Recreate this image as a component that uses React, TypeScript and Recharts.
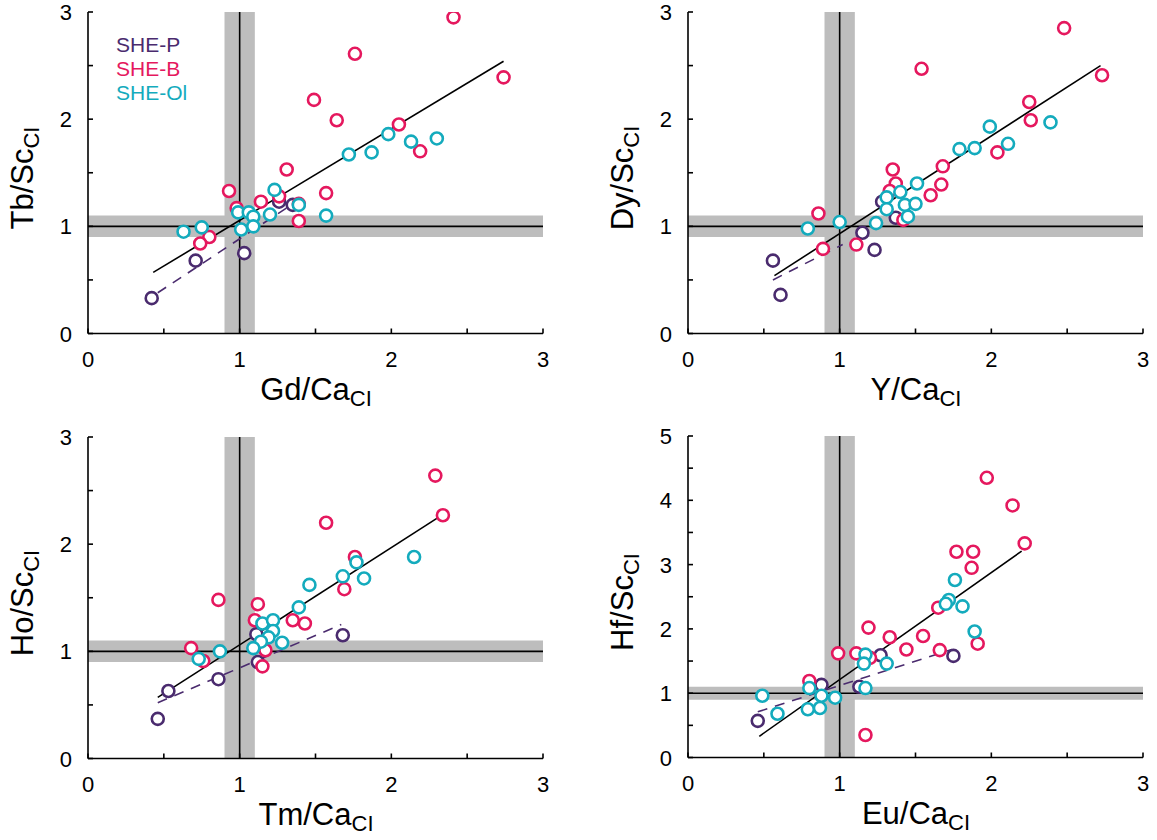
import React from 'react';
import { ScatterChart, Scatter, XAxis, YAxis, ReferenceArea, ReferenceLine } from 'recharts';

type Pt = [number, number];

const PURPLE = '#4a2b6e';
const PINK = '#e5185e';
const CYAN = '#14abbd';
const BAND = '#bdbdbd';
const FONT = '"Liberation Sans", Arial, sans-serif';

const xTicks = [0, 0.5, 1, 1.5, 2, 2.5, 3];
const yTicks3 = [0, 0.5, 1, 1.5, 2, 2.5, 3];
const yTicks5 = [0, 0.5, 1, 1.5, 2, 2.5, 3, 3.5, 4, 4.5, 5];

const seriesNames = ['SHE-P', 'SHE-B', 'SHE-Ol'];

// Gd/Ca vs Tb/Sc
const gdTbP: Pt[] = [[0.42, 0.33], [0.71, 0.68], [1.03, 0.75], [1.26, 1.23], [1.35, 1.2]];
const gdTbB: Pt[] = [
  [2.41, 2.95], [1.76, 2.61], [2.74, 2.39], [1.49, 2.18], [1.64, 1.99], [2.05, 1.95],
  [2.19, 1.7], [1.31, 1.53], [0.93, 1.33], [1.57, 1.31], [1.14, 1.23], [1.26, 1.28],
  [0.98, 1.17], [1.39, 1.21], [1.39, 1.05], [0.8, 0.9], [0.74, 0.84],
];
const gdTbOl: Pt[] = [
  [0.63, 0.95], [0.75, 0.99], [0.99, 1.13], [1.06, 1.13], [1.09, 1.09], [1.01, 0.97],
  [1.09, 1.0], [1.2, 1.11], [1.23, 1.34], [1.39, 1.2], [1.57, 1.1], [1.72, 1.67],
  [1.87, 1.69], [1.98, 1.86], [2.13, 1.79], [2.3, 1.82],
];
const gdTbFit: Pt[] = [[0.43, 0.57], [2.74, 2.54]];
const gdTbFitP: Pt[] = [[0.46, 0.38], [1.34, 1.2]];

// Y/Ca vs Dy/Sc
const yDyP: Pt[] = [[0.56, 0.68], [0.61, 0.36], [1.15, 0.94], [1.23, 0.78], [1.28, 1.23], [1.37, 1.08]];
const yDyB: Pt[] = [
  [2.48, 2.85], [1.54, 2.47], [2.73, 2.41], [2.25, 2.16], [2.26, 1.99], [2.04, 1.69],
  [1.68, 1.56], [1.35, 1.53], [1.37, 1.4], [1.33, 1.33], [1.67, 1.39], [1.6, 1.29],
  [0.86, 1.12], [1.42, 1.06], [0.89, 0.79], [1.11, 0.83],
];
const yDyOl: Pt[] = [
  [0.79, 0.98], [1.0, 1.04], [1.24, 1.03], [1.31, 1.27], [1.31, 1.16], [1.4, 1.32],
  [1.43, 1.2], [1.5, 1.21], [1.45, 1.09], [1.51, 1.4], [1.79, 1.72], [1.89, 1.73],
  [1.99, 1.93], [2.11, 1.77], [2.39, 1.97],
];
const yDyFit: Pt[] = [[0.57, 0.54], [2.72, 2.5]];
const yDyFitP: Pt[] = [[0.56, 0.5], [1.02, 0.83]];

// Tm/Ca vs Ho/Sc
const tmHoP: Pt[] = [[0.46, 0.37], [0.53, 0.63], [0.86, 0.74], [1.11, 1.16], [1.12, 0.9], [1.68, 1.15]];
const tmHoB: Pt[] = [
  [2.29, 2.64], [2.34, 2.27], [1.57, 2.2], [1.76, 1.88], [1.69, 1.58], [0.86, 1.48],
  [1.12, 1.44], [1.1, 1.29], [1.35, 1.29], [1.43, 1.26], [0.68, 1.03], [0.76, 0.91],
  [1.17, 1.01], [1.15, 0.86],
];
const tmHoOl: Pt[] = [
  [2.15, 1.88], [1.77, 1.83], [1.68, 1.7], [1.82, 1.68], [1.46, 1.62], [1.39, 1.41],
  [1.15, 1.26], [1.22, 1.29], [1.22, 1.19], [1.19, 1.13], [1.14, 1.09], [1.28, 1.08],
  [1.09, 1.03], [0.87, 1.0], [0.73, 0.93],
];
const tmHoFit: Pt[] = [[0.46, 0.57], [2.3, 2.24]];
const tmHoFitP: Pt[] = [[0.46, 0.52], [1.67, 1.25]];

// Eu/Ca vs Hf/Sc
const euHfP: Pt[] = [[0.46, 0.57], [0.88, 1.13], [1.13, 1.1], [1.27, 1.59], [1.75, 1.58]];
const euHfB: Pt[] = [
  [1.97, 4.35], [2.14, 3.92], [2.22, 3.33], [1.77, 3.2], [1.88, 3.2], [1.87, 2.95],
  [1.65, 2.33], [1.19, 2.02], [1.33, 1.87], [1.55, 1.89], [1.44, 1.68], [1.66, 1.67],
  [1.91, 1.77], [0.99, 1.62], [1.11, 1.62], [1.2, 1.55], [0.8, 1.19], [1.17, 0.35],
];
const euHfOl: Pt[] = [
  [1.76, 2.76], [1.72, 2.45], [1.7, 2.39], [1.81, 2.35], [1.89, 1.96], [1.17, 1.6],
  [1.16, 1.46], [1.31, 1.46], [1.17, 1.08], [0.8, 1.08], [0.49, 0.96], [0.88, 0.96],
  [0.97, 0.93], [0.59, 0.68], [0.79, 0.75], [0.87, 0.77],
];
const euHfFit: Pt[] = [[0.47, 0.33], [2.2, 3.21]];
const euHfFitP: Pt[] = [[0.46, 0.71], [1.74, 1.68]];

const toXY = (pts: Pt[]) => pts.map(([x, y]) => ({ x, y }));

const TICK_LEN = 5;
const LINE_W = 1.6;

const ring = (color: string) => (props: any) =>
  <circle cx={props.cx} cy={props.cy} r={6} fill="#fff" stroke={color} strokeWidth={2.6} />;

// inward tick marks, labels only on whole numbers
const BottomTick = (props: any) => {
  const { x, y, payload } = props;
  return (
    <g>
      <line x1={x} x2={x} y1={y} y2={y - TICK_LEN} stroke="#000" strokeWidth={LINE_W} />
      {Number.isInteger(payload.value) && (
        <text x={x} y={y + 33} textAnchor="middle" fontSize={22} fill="#000">{payload.value}</text>
      )}
    </g>
  );
};
const TopTick = (props: any) => (
  <line x1={props.x} x2={props.x} y1={props.y} y2={props.y + TICK_LEN} stroke="#000" strokeWidth={LINE_W} />
);
const LeftTick = (props: any) => {
  const { x, y, payload } = props;
  return (
    <g>
      <line x1={x} x2={x + TICK_LEN} y1={y} y2={y} stroke="#000" strokeWidth={LINE_W} />
      {Number.isInteger(payload.value) && (
        <text x={x - 16} y={y + 8} textAnchor="end" fontSize={22} fill="#000">{payload.value}</text>
      )}
    </g>
  );
};
const RightTick = (props: any) => (
  <line x1={props.x} x2={props.x - TICK_LEN} y1={props.y} y2={props.y} stroke="#000" strokeWidth={LINE_W} />
);

interface PanelProps {
  left: number;
  top: number;
  yMax: number;
  yTicks: number[];
  p: Pt[];
  b: Pt[];
  ol: Pt[];
  fit: Pt[];
  fitP: Pt[];
}

function Panel({ left, top, yMax, yTicks, p, b, ol, fit, fitP }: PanelProps) {
  const axis = { stroke: '#000', strokeWidth: LINE_W, tickLine: false, tickSize: 0, tickMargin: 0, allowDataOverflow: true };
  return (
    <div style={{ position: 'absolute', left, top }}>
      <ScatterChart width={580} height={420} margin={{ top: 12, right: 37, bottom: 56.5, left: 28 }}>
        <XAxis type="number" dataKey="x" domain={[0, 3]} ticks={xTicks} interval={0} height={30} tick={BottomTick} {...axis} />
        <XAxis xAxisId="t" orientation="top" type="number" domain={[0, 3]} ticks={xTicks} interval={0} height={0} tick={TopTick} {...axis} />
        <YAxis type="number" dataKey="y" domain={[0, yMax]} ticks={yTicks} interval={0} width={60} tick={LeftTick} {...axis} />
        <YAxis yAxisId="r" orientation="right" type="number" domain={[0, yMax]} ticks={yTicks} interval={0} width={0} tick={RightTick} {...axis} />
        <ReferenceArea x1={0.9} x2={1.1} y1={0} y2={yMax} fill={BAND} fillOpacity={1} stroke="none" />
        <ReferenceArea x1={0} x2={3} y1={0.9} y2={1.1} fill={BAND} fillOpacity={1} stroke="none" />
        <ReferenceLine x={1} stroke="#000" strokeWidth={LINE_W} />
        <ReferenceLine y={1} stroke="#000" strokeWidth={LINE_W} />
        <ReferenceLine segment={toXY(fit)} stroke="#000" strokeWidth={LINE_W} />
        <ReferenceLine segment={toXY(fitP)} stroke={PURPLE} strokeWidth={LINE_W} strokeDasharray="10 8" />
        <Scatter data={toXY(p)} shape={ring(PURPLE)} isAnimationActive={false} />
        <Scatter data={toXY(b)} shape={ring(PINK)} isAnimationActive={false} />
        <Scatter data={toXY(ol)} shape={ring(CYAN)} isAnimationActive={false} />
      </ScatterChart>
    </div>
  );
}

function XTitle({ cx, y, main }: { cx: number; y: number; main: string }) {
  return (
    <text x={cx} y={y} textAnchor="middle" fontSize={31} fill="#000">
      {main}
      <tspan fontSize={22} dy={6}>CI</tspan>
    </text>
  );
}

function YTitle({ x, cy, main }: { x: number; cy: number; main: string }) {
  return (
    <text x={-cy} y={x} transform="rotate(-90)" textAnchor="middle" fontSize={31} fill="#000">
      {main}
      <tspan fontSize={22} dy={6}>CI</tspan>
    </text>
  );
}

export default function App() {
  const colors = [PURPLE, PINK, CYAN];
  return (
    <div style={{ position: 'absolute', left: 0, top: 0, width: 1157, height: 840, background: '#fff', fontFamily: FONT }}>
      <Panel left={0} top={0} yMax={3} yTicks={yTicks3} p={gdTbP} b={gdTbB} ol={gdTbOl} fit={gdTbFit} fitP={gdTbFitP} />
      <Panel left={600} top={0} yMax={3} yTicks={yTicks3} p={yDyP} b={yDyB} ol={yDyOl} fit={yDyFit} fitP={yDyFitP} />
      <Panel left={0} top={425} yMax={3} yTicks={yTicks3} p={tmHoP} b={tmHoB} ol={tmHoOl} fit={tmHoFit} fitP={tmHoFitP} />
      <Panel left={600} top={424} yMax={5} yTicks={yTicks5} p={euHfP} b={euHfB} ol={euHfOl} fit={euHfFit} fitP={euHfFitP} />
      <svg width={1157} height={840} style={{ position: 'absolute', left: 0, top: 0, pointerEvents: 'none', fontFamily: FONT }}>
        <XTitle cx={316} y={400} main="Gd/Ca" />
        <XTitle cx={916} y={400} main="Y/Ca" />
        <XTitle cx={316} y={825} main="Tm/Ca" />
        <XTitle cx={916} y={824} main="Eu/Ca" />
        <YTitle x={33} cy={178} main="Tb/Sc" />
        <YTitle x={633} cy={178} main="Dy/Sc" />
        <YTitle x={33} cy={603} main="Ho/Sc" />
        <YTitle x={633} cy={602} main="Hf/Sc" />
        {seriesNames.map((name, i) => (
          <text key={name} x={116} y={52 + i * 24} fontSize={21} fill={colors[i]}>{name}</text>
        ))}
      </svg>
    </div>
  );
}
